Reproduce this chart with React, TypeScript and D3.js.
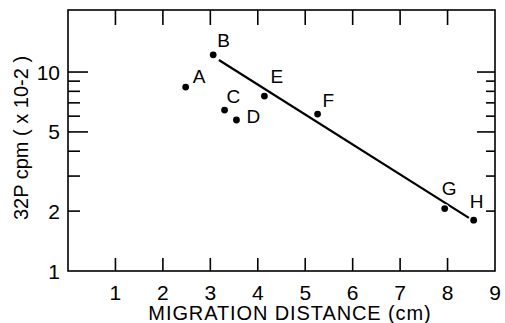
import React from 'react';
import * as d3 from 'd3';

// samples
const sampleLabels = ['A', 'B', 'C', 'D', 'E', 'F', 'G', 'H'];
const distances = [2.48, 3.06, 3.3, 3.55, 4.14, 5.26, 7.94, 8.55];
const counts = [8.4, 12.2, 6.44, 5.74, 7.57, 6.15, 2.06, 1.8];

// fitted line (end points)
const fitDistances = [3.18, 8.45];
const fitCounts = [11.5, 1.85];

const xTicks = [1, 2, 3, 4, 5, 6, 7, 8, 9];
const yTickLabels = [1, 2, 5, 10];
const yMinorTicks = [2, 3, 4, 6, 7, 8, 9];
const yMajorTicks = [5, 10];

// label nudges (px) relative to each point
const labelDx = [7, 4, 2, 10, 6, 5, -3, -4];
const labelDy = [-4, -8, -7, 3, -13, -7, -14, -12];

const FONT = '"Liberation Sans", Arial, sans-serif';

const left = 68, right = 495, top = 10, bottom = 271;
const x = d3.scaleLinear().domain([0, 9]).range([left, right]);
const y = d3.scaleLog().domain([1, 20.5]).range([bottom, top]);

const App = () => {
    const inner = xTicks.filter(d => d < 9);
    const yTicks = [...yMinorTicks, ...yMajorTicks];
    const isMajor = d => yMajorTicks.includes(d);
    const fitPath = d3.line().x(d => x(d[0])).y(d => y(d[1]))(
        fitDistances.map((d, i) => [d, fitCounts[i]])
    );

    return (
        <svg width={505} height={323}
            style={{ position: 'absolute', left: 0, top: 0, background: '#fff' }}>
            <rect x={left} y={top} width={right - left} height={bottom - top}
                fill="none" stroke="#000" strokeWidth={1.6} />
            <g stroke="#000" strokeWidth={1.6}>
                {inner.map(d => (
                    <g key={'x' + d}>
                        <line x1={x(d)} x2={x(d)} y1={bottom} y2={bottom - 13} />
                        <line x1={x(d)} x2={x(d)} y1={top} y2={top + 15} />
                    </g>
                ))}
                {yTicks.map(d => (
                    <g key={'y' + d}>
                        <line x1={left} x2={left + (isMajor(d) ? 20 : 12)} y1={y(d)} y2={y(d)} />
                        <line x1={right} x2={right - (isMajor(d) ? 18 : 9)} y1={y(d)} y2={y(d)} />
                    </g>
                ))}
            </g>
            <g fontFamily={FONT} fontSize={21}>
                {xTicks.map(d => (
                    <text key={'xl' + d} x={x(d)} y={300} textAnchor="middle">{d}</text>
                ))}
                {yTickLabels.map(d => (
                    <text key={'yl' + d} x={60} y={y(d) + 7.5} textAnchor="end">{d}</text>
                ))}
            </g>
            <text x={290} y={320} textAnchor="middle" fontFamily={FONT} fontSize={20}
                style={{ letterSpacing: '0.9px' }}>MIGRATION DISTANCE (cm)</text>
            <text transform="translate(28, 138) rotate(-90)" textAnchor="middle"
                fontFamily={FONT} fontSize={20}>32P cpm ( x 10-2 )</text>
            <path d={fitPath} fill="none" stroke="#000" strokeWidth={2.2} />
            {sampleLabels.map((s, i) => (
                <g key={s}>
                    <circle cx={x(distances[i])} cy={y(counts[i])} r={3.4}
                        fill="#000" stroke="#fff" strokeWidth={2.5} paintOrder="stroke" />
                    <text x={x(distances[i]) + labelDx[i]} y={y(counts[i]) + labelDy[i]}
                        fontFamily={FONT} fontSize={19}>{s}</text>
                </g>
            ))}
        </svg>
    );
};

export default App;
